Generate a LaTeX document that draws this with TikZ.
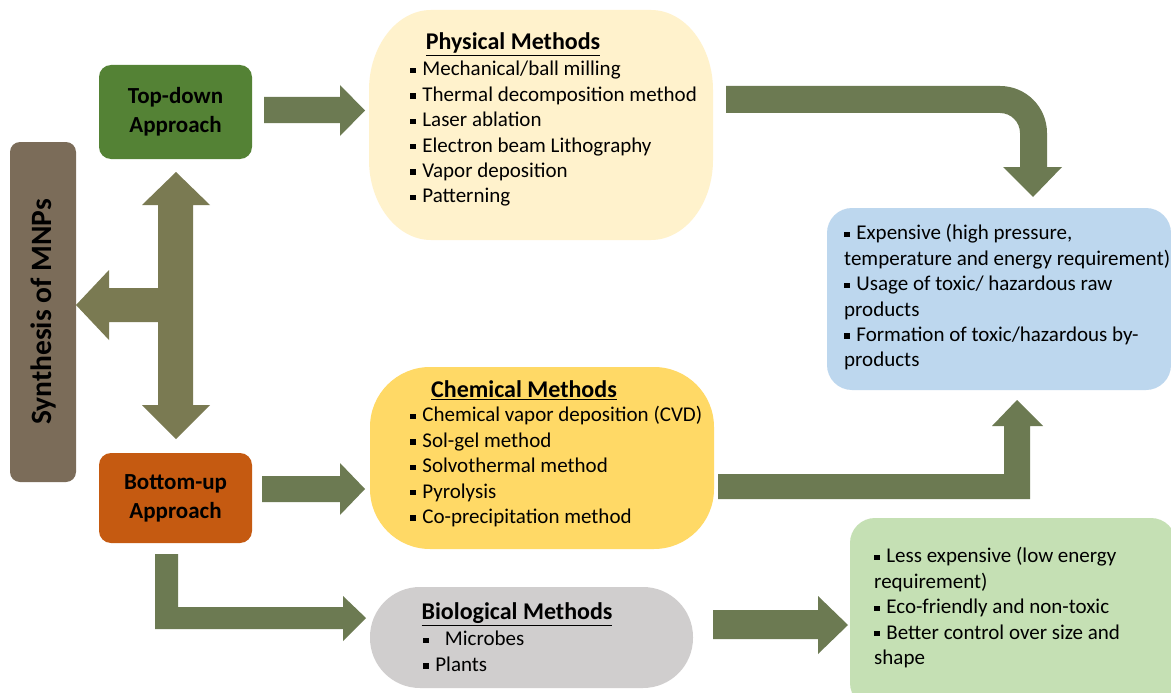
\documentclass[tikz,border=0pt]{standalone}
\usepackage{fontspec}
\setmainfont{Carlito}
\definecolor{synthc}{RGB}{123,108,89}
\definecolor{tdc}{RGB}{84,130,53}
\definecolor{buc}{RGB}{197,90,17}
\definecolor{physc}{RGB}{255,242,204}
\definecolor{chemc}{RGB}{255,217,102}
\definecolor{bioc}{RGB}{208,206,206}
\definecolor{bluec}{RGB}{189,215,238}
\definecolor{greenc}{RGB}{197,224,180}
\definecolor{tarrc}{RGB}{122,122,82}
\definecolor{arrc}{RGB}{108,122,82}
\newcommand\bul{\rule[0.13em]{0.26em}{0.26em}\hspace{0.32em}}
\tikzset{
  box/.style={inner sep=0pt, outer sep=0pt, draw=none},
  apptext/.style={font=\fontsize{23}{29}\selectfont\bfseries, align=center, text=black},
  ttl/.style={font=\fontsize{24}{28}\selectfont\bfseries, inner sep=0pt},
  items/.style={font=\fontsize{21}{25.4}\selectfont, align=left, anchor=north west, inner sep=0pt},
  tarr/.style={fill=tarrc, draw=none},
  arr/.style={fill=arrc, draw=none}
}
\begin{document}
\begin{tikzpicture}[x=1pt,y=-1pt]
\useasboundingbox (0,0) rectangle (1171,693);
\fill[white] (0,0) rectangle (1171,693);
\clip (0,0) rectangle (1171,693);

% left column
\node[box, rotate=90, fill=synthc, rounded corners=10pt, minimum width=340pt, minimum height=66pt,
      font=\fontsize{29.5}{34}\selectfont\bfseries] (synth) at (43,312) {Synthesis of MNPs};
\node[box, fill=tdc, rounded corners=12pt, minimum width=153pt, minimum height=94pt, apptext] (td) at (175.5,112) {Top-down\\Approach};
\node[box, fill=buc, rounded corners=12pt, minimum width=153pt, minimum height=90pt, apptext] (bu) at (175.5,498) {Bottom-up\\Approach};

% method boxes
\node[box, minimum width=344pt, minimum height=230pt] (phys) at (541,125) {};
\fill[physc] (431,10) -- (651,10) .. controls (685,10) and (713,46) .. (713,90) -- (713,160)
  .. controls (713,204) and (685,240) .. (651,240) -- (431,240)
  .. controls (397,240) and (369,204) .. (369,160) -- (369,90)
  .. controls (369,46) and (397,10) .. (431,10) -- cycle;
\node[ttl] (physT) at (513,44) {\underline{Physical Methods}};
\node[items] (physI) at (410,58) {\strut\bul Mechanical/ball milling\\ \bul Thermal decomposition method\\ \bul Laser ablation\\ \bul Electron beam Lithography\\ \bul Vapor deposition\\ \bul Patterning};

\node[box, fill=chemc, rounded corners=60pt, minimum width=344pt, minimum height=182pt] (chem) at (542,458) {};
\node[ttl] (chemT) at (524,390) {\underline{Chemical Methods}};
\node[items] (chemI) at (410,404) {\strut\bul Chemical vapor deposition (CVD)\\ \bul Sol-gel method\\ \bul Solvothermal method\\ \bul Pyrolysis\\ \bul Co-precipitation method};

\node[box, fill=bioc, rounded corners=50pt, minimum width=323pt, minimum height=101pt] (bio) at (531.5,637.5) {};
\node[ttl] (bioT) at (517,614) {\underline{Biological Methods}};
\node[items] (bioI) at (423,628) {\strut\bul\ \ Microbes\\ \bul Plants};

% outcome boxes
\node[box, fill=bluec, rounded corners=25pt, minimum width=344pt, minimum height=182pt] (blue) at (999,299) {};
\node[items] (blueI) at (844,222) {\strut\bul Expensive (high pressure,\\ temperature and energy requirement)\\ \bul Usage of toxic/ hazardous raw\\ products\\ \bul Formation of toxic/hazardous by-\\ products};

\node[box, fill=greenc, rounded corners=25pt, minimum width=326pt, minimum height=190pt] (green) at (1013,613) {};
\node[items] (greenI) at (874,545) {\strut\bul Less expensive (low energy\\ requirement)\\ \bul Eco-friendly and non-toxic\\ \bul Better control over size and\\ shape};

% T-shaped triple arrow
\fill[tarr] (76,305) -- (109,270) -- (109,288) -- (158,288) -- (158,205) -- (142,205) -- (176,172)
  -- (210,205) -- (193,205) -- (193,405) -- (210,405) -- (176,439) -- (142,405) -- (158,405)
  -- (158,322) -- (109,322) -- (109,340) -- cycle;

% straight arrows
\fill[arr] (264,97) -- (340,97) -- (340,85) -- (365,110.5) -- (340,136) -- (340,123) -- (264,123) -- cycle;
\fill[arr] (262,476) -- (340,476) -- (340,463) -- (365,489) -- (340,515) -- (340,502) -- (262,502) -- cycle;
\fill[arr] (713,610) -- (818,610) -- (818,596) -- (848,625) -- (818,654) -- (818,639) -- (713,639) -- cycle;

% bent arrows
\fill[arr] (726,86) -- (1000,86) .. controls (1026,86) and (1047,107) .. (1047,133) -- (1047,167)
  -- (1062,167) -- (1033,197) -- (1003,167) -- (1020,167) -- (1020,133)
  .. controls (1020,122) and (1011,113) .. (1000,113) -- (726,113) -- cycle;
\fill[arr] (718,474) -- (1004,474) -- (1004,426) -- (992,426) -- (1017,400) -- (1043,426) -- (1030,426)
  -- (1030,499) -- (718,499) -- cycle;
\fill[arr] (155,554) -- (178,554) -- (178,607) -- (343,607) -- (343,596) -- (366,618) -- (343,641)
  -- (343,629) -- (155,629) -- cycle;
\end{tikzpicture}
\end{document}
